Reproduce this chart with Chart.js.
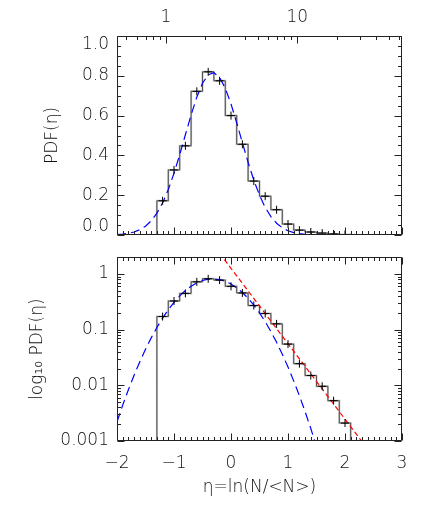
<!DOCTYPE html>
<html><head><meta charset="utf-8">
<script src="https://cdn.jsdelivr.net/npm/chart.js@4/dist/chart.umd.min.js"></script>
<style>
html,body{margin:0;padding:0;background:#fff;width:436px;height:516px;overflow:hidden}
canvas{position:absolute;left:0}
#c1{top:0}
#c2{top:239px}
</style></head><body>
<canvas id="c1" width="436" height="240"></canvas>
<canvas id="c2" width="436" height="277"></canvas>
<script>
// ---- data ----
const binCenters = [-1.2,-1.0,-0.8,-0.6,-0.4,-0.2,0.0,0.2,0.4,0.6,0.8,1.0,1.2,1.4,1.6,1.8,2.0];
const pdfValues  = [0.172,0.327,0.448,0.722,0.820,0.775,0.600,0.456,0.271,0.195,0.127,0.055,0.0245,0.0150,0.0096,0.0053,0.0021];
const binWidth = 0.2;

const fitEta = [-2.0,-1.9,-1.8,-1.7,-1.6,-1.5,-1.4,-1.3,-1.2,-1.1,-1.0,-0.9,-0.8,-0.7,-0.6,-0.5,-0.4,-0.3,-0.2,-0.1,0.0,0.1,0.2,0.3,0.4,0.5,0.6,0.7,0.8,0.9,1.0,1.1,1.2,1.3,1.4,1.5,1.6,1.8,2.0,2.5,3.0];
const fitPdf = [0.00222,0.00440,0.00835,0.01519,0.02649,0.04432,0.07112,0.10943,0.16149,0.22851,0.31015,0.40368,0.50390,0.60324,0.69257,0.76251,0.80515,0.81532,0.79178,0.73742,0.65866,0.56420,0.46345,0.36512,0.27586,0.19990,0.13891,0.09256,0.05915,0.03626,0.02131,0.01201,0.00650,0.003365,0.001673,0.000798,0.000365,0.00006,0.00001,0.0000002,0.000000002];

const tailEta = [-0.2,0.0,0.5,1.0,1.5,2.0,2.5];
const tailPdf = [2.36,1.265,0.266,0.0559,0.01175,0.00247,0.000519];

const xTickValues = [-2,-1,0,1,2,3];
const topTickN = [1,10];
const topMinorN = [0.5,0.6,0.7,0.8,0.9,2,3,4,5,6,7,8,9,20,30,40,50,60];
const meanN = 3.13;
const linTicks = [0.0,0.2,0.4,0.6,0.8,1.0];
const logTicks = [0.001,0.01,0.1,1];
const logTickLabels = ['0.001','0.01','0.1','1'];

// ---- style ----
const FONT = {family:'"DejaVu Sans", sans-serif', size:17, weight:'200'};
const TXT = '#111';
const AX = '#222';

function stepPoints(floor, leftStart, rightEnd){
  const pts = [];
  const h = binWidth/2;
  if (leftStart !== null) pts.push({x:leftStart, y:floor});
  pts.push({x:binCenters[0]-h, y:floor});
  for (let i=0;i<binCenters.length;i++) pts.push({x:binCenters[i]-h, y:pdfValues[i]});
  pts.push({x:binCenters[binCenters.length-1]+h, y:floor});
  if (rightEnd !== null) pts.push({x:rightEnd, y:floor});
  return pts;
}
const zip = (a,b)=>a.map((v,i)=>({x:v,y:b[i]}));

function drawFrame(chart, opts){
  const {ctx, chartArea:a} = chart;
  const xs = chart.scales.x, ys = chart.scales.y;
  ctx.save();
  ctx.strokeStyle = AX; ctx.lineWidth = 1;
  const L = Math.round(a.left)+0.5, R = Math.round(a.right)-0.5, T = Math.round(a.top)+0.5, B = Math.round(a.bottom)-0.5;
  ctx.beginPath();
  ctx.rect(L, T, R-L, B-T);
  for (let k=-20;k<=30;k++){
    const px = Math.round(xs.getPixelForValue(k/10))+0.5;
    const len = (k%10===0)?7:3.5;
    if (opts.etaBottom){ ctx.moveTo(px,B); ctx.lineTo(px,B-len); }
    if (opts.etaTop){ ctx.moveTo(px,T); ctx.lineTo(px,T+len); }
  }
  if (opts.nTop){
    const ts = chart.scales.xTop;
    topTickN.forEach(n=>{const px=Math.round(ts.getPixelForValue(Math.log(n/meanN)))+0.5; ctx.moveTo(px,T); ctx.lineTo(px,T+7);});
    topMinorN.forEach(n=>{const px=Math.round(ts.getPixelForValue(Math.log(n/meanN)))+0.5; if(px>L&&px<R){ctx.moveTo(px,T); ctx.lineTo(px,T+3.5);}});
  }
  const yt = [];
  if (opts.lin){
    for (let k=0;k<=20;k++) yt.push([k*0.05, k%4===0]);
  } else {
    for (let d=-3; d<=0; d++) for (let m=1;m<=9;m++){ const v=m*Math.pow(10,d); if (v<=2) yt.push([v, m===1]); }
  }
  yt.forEach(([v,maj])=>{
    const py = Math.round(ys.getPixelForValue(v))+0.5;
    const len = maj?7:3.5;
    ctx.moveTo(L,py); ctx.lineTo(L+len,py);
    ctx.moveTo(R,py); ctx.lineTo(R-len,py);
  });
  ctx.stroke();
  if (opts.lin){
    ctx.fillStyle = TXT;
    ctx.font = FONT.weight+' '+FONT.size+'px '+FONT.family;
    ctx.textAlign='right'; ctx.textBaseline='middle';
    linTicks.forEach(v=>{
      let py = ys.getPixelForValue(v);
      if (v===1) py += 9;
      if (v===0) py -= 8;
      ctx.fillText(v.toFixed(1), a.left-8, py);
    });
  }
  ctx.restore();
}

const base = {
  responsive:false, animation:false, devicePixelRatio:1,
  plugins:{legend:{display:false}, tooltip:{enabled:false}},
  elements:{point:{radius:0}}
};

function histSets(floor, l, r){
  const pts = stepPoints(floor, l, r);
  return [
    {data:pts, xAxisID:'x', stepped:true, borderColor:'#333', borderWidth:0.8, pointRadius:0, clip:0},
    {data:pts, xAxisID:'x', stepped:true, borderColor:'#c4c4c4', borderWidth:2, pointRadius:0, clip:0}
  ];
}
const markerSet = {data:zip(binCenters,pdfValues), xAxisID:'x', showLine:false, pointStyle:'cross', pointRadius:4, borderColor:'#000', borderWidth:1, clip:0};
const blueSet = {data:zip(fitEta,fitPdf), xAxisID:'x', borderColor:'rgb(0,0,255)', borderWidth:1.2, borderDash:[9,5], pointRadius:0, tension:0, clip:0};
const redSet = {data:zip(tailEta,tailPdf), xAxisID:'x', borderColor:'rgb(255,0,0)', borderWidth:1.2, borderDash:[5,3], pointRadius:0, tension:0, clip:0};

new Chart(document.getElementById('c1'), {
  type:'line',
  data:{datasets:[markerSet, blueSet, ...histSets(0,-2,3)]},
  options:Object.assign({}, base, {
    layout:{padding:{left:0,right:34,top:0,bottom:1}},
    scales:{
      x:{type:'linear', min:-2, max:3, display:false},
      xTop:{type:'linear', position:'top', min:-2, max:3,
        grid:{display:false, drawTicks:false}, border:{display:false},
        ticks:{font:FONT, color:TXT, padding:8, maxRotation:0, autoSkip:false,
               callback:(v,i)=>String(topTickN[i])},
        afterBuildTicks:s=>{s.ticks = topTickN.map(n=>({value:Math.log(n/meanN)}));},
        afterFit:s=>{s.height=36;}},
      y:{type:'linear', min:0, max:1,
        grid:{display:false, drawTicks:false}, border:{display:false},
        ticks:{display:false},
        title:{display:true, text:'PDF(η)', font:FONT, color:TXT, padding:{top:42,bottom:0}},
        afterFit:s=>{s.width=117;}}
    }
  }),
  plugins:[{id:'frame1', afterDatasetsDraw:(c)=>drawFrame(c,{etaBottom:true, etaTop:false, nTop:true, lin:true})}]
});

new Chart(document.getElementById('c2'), {
  type:'line',
  data:{datasets:[markerSet, blueSet, redSet, ...histSets(logTicks[0],null,null)]},
  options:Object.assign({}, base, {
    layout:{padding:{left:0,right:34,top:0,bottom:0}},
    scales:{
      x:{type:'linear', min:-2, max:3, position:'bottom',
        grid:{display:false, drawTicks:false}, border:{display:false},
        ticks:{font:FONT, color:TXT, padding:12, maxRotation:0, autoSkip:false,
               callback:(v,i)=>{const t=xTickValues[i]; return t<0?'\u2212'+Math.abs(t):String(t);}},
        afterBuildTicks:s=>{s.ticks = xTickValues.map(v=>({value:v}));},
        title:{display:true, text:'η=ln(N/<N>)', font:FONT, color:TXT, padding:{top:0,bottom:18}},
        afterFit:s=>{s.height=75;}},
      y:{type:'logarithmic', min:0.001, max:2,
        grid:{display:false, drawTicks:false}, border:{display:false},
        ticks:{font:FONT, color:TXT, padding:8, autoSkip:false, callback:(v,i)=>logTickLabels[i]},
        afterBuildTicks:s=>{s.ticks = logTicks.map(v=>({value:v}));},
        title:{display:true, text:'log₁₀ PDF(η)', font:FONT, color:TXT, padding:{top:27,bottom:0}},
        afterFit:s=>{s.width=117;}}
    }
  }),
  plugins:[{id:'frame2', afterDatasetsDraw:(c)=>drawFrame(c,{etaBottom:true, etaTop:true, nTop:false, lin:false})}]
});
</script>
</body></html>
